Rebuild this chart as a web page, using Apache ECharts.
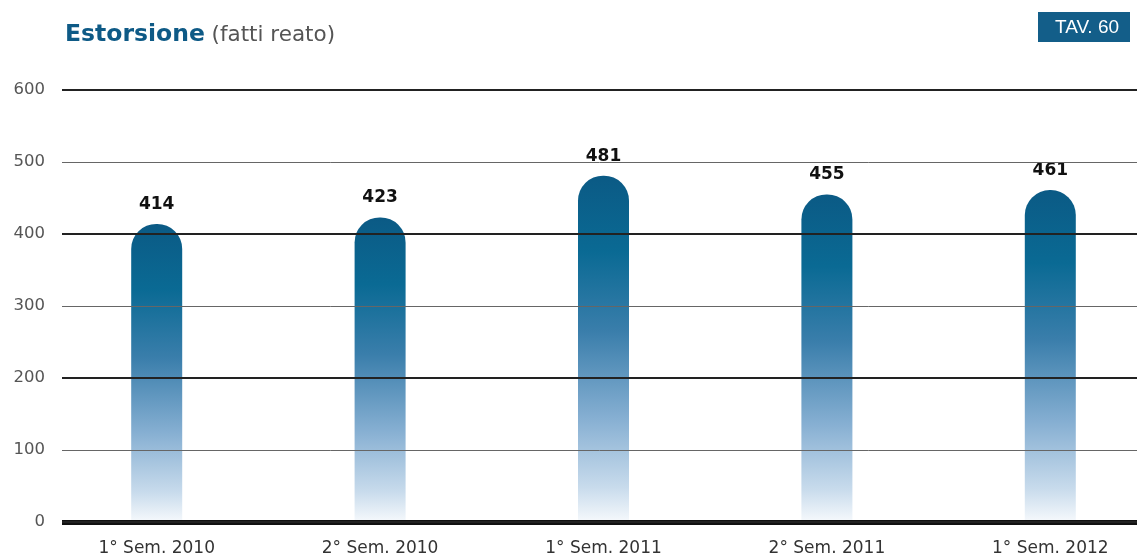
<!DOCTYPE html>
<html>
<head>
<meta charset="utf-8">
<script src="https://cdn.jsdelivr.net/npm/echarts@6/dist/echarts.min.js"></script>
<style>html,body{margin:0;padding:0;background:#fff}#c{width:1137px;height:558px}</style>
</head>
<body>
<div id="c"></div>
<script>
var categories = ['1° Sem. 2010', '2° Sem. 2010', '1° Sem. 2011', '2° Sem. 2011', '1° Sem. 2012'];
var values = [414, 423, 481, 455, 461];
var dataLabels = ['414', '423', '481', '455', '461'];
var yTicks = [0, 100, 200, 300, 400, 500, 600];

var chart = echarts.init(document.getElementById('c'));
var FONT = 'DejaVu Sans, Liberation Sans, sans-serif';
chart.setOption({
  animation: false,
  graphic: [
    { type: 'text', left: 65, top: 23, style: { text: '{b|Estorsione}  {n|(fatti reato)}', rich: {
      b: { fontFamily: FONT, fontSize: 23.5, fontWeight: 'bold', fill: '#0e5a86' },
      n: { fontFamily: FONT, fontSize: 21.5, fill: '#555' } } } },
    { type: 'rect', shape: { x: 1038, y: 12, width: 92, height: 30 }, style: { fill: '#135e89' } },
    { type: 'text', x: 1087, y: 28, style: { text: 'TAV. 60', fontFamily: 'Liberation Sans, sans-serif', fontSize: 19, fill: '#fff', align: 'center', verticalAlign: 'middle' } }
  ],
  grid: [
    { left: 62, right: 0, top: 90, bottom: 36, outerBoundsMode: 'none' },
    { left: 62, right: 0, top: 90, bottom: 36, outerBoundsMode: 'none' },
    { left: 45, width: 1117, top: 90, bottom: 36, outerBoundsMode: 'none' }
  ],
  xAxis: [
    { type: 'value', gridIndex: 0, show: false },
    { type: 'value', gridIndex: 1, show: false },
    { type: 'category', gridIndex: 2, data: categories, z: 6,
      axisLine: { show: false }, axisTick: { show: false },
      axisLabel: { fontFamily: FONT, fontSize: 17, color: '#333', margin: 18 } }
  ],
  yAxis: [
    { type: 'value', gridIndex: 0, min: 0, max: 600, interval: 100, z: 5,
      axisLine: { show: false }, axisTick: { show: false },
      axisLabel: { fontFamily: FONT, fontSize: 16.5, color: '#555', margin: 17,
        formatter: function (v) { return yTicks.indexOf(v) >= 0 ? String(v) : ''; } },
      splitLine: { lineStyle: { color: '#666', width: 1 } } },
    { type: 'value', gridIndex: 1, min: 0, max: 600, interval: 200, z: 6,
      axisLine: { show: false }, axisTick: { show: false }, axisLabel: { show: false },
      splitLine: { lineStyle: { color: '#222', width: 2 } } },
    { type: 'value', gridIndex: 2, min: 0, max: 600, interval: 100, show: false }
  ],
  series: [
    { type: 'bar', xAxisIndex: 2, yAxisIndex: 2, data: values, barWidth: 51, z: 2,
      itemStyle: { borderRadius: [25, 25, 0, 0],
        color: new echarts.graphic.LinearGradient(0, 0, 0, 1, [
          { offset: 0, color: '#0b5a85' },
          { offset: 0.22, color: '#0a6a94' },
          { offset: 0.45, color: '#3a7eab' },
          { offset: 0.7, color: '#86afd2' },
          { offset: 0.9, color: '#c8dbec' },
          { offset: 1, color: '#f6f9fc' }
        ]) },
      label: { show: true, position: 'top', distance: 11, fontFamily: FONT, fontSize: 17, fontWeight: 'bold', color: '#111',
        formatter: function (p) { return dataLabels[p.dataIndex]; } } },
    { type: 'line', xAxisIndex: 1, yAxisIndex: 1, data: [], z: 8,
      markLine: { silent: true, symbol: 'none', label: { show: false },
        lineStyle: { color: '#111', width: 5, type: 'solid' }, data: [{ yAxis: 0 }] } }
  ]
});
</script>
</body>
</html>
